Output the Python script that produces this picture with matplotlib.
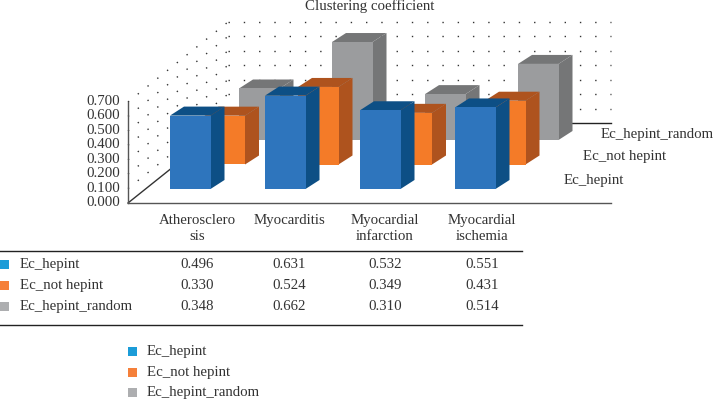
import matplotlib
matplotlib.use('Agg')
from matplotlib import pyplot as plt
from matplotlib.patches import Polygon, Rectangle

categories = ['Atherosclero\nsis', 'Myocarditis', 'Myocardial\ninfarction', 'Myocardial\nischemia']
series_names = ['Ec_hepint', 'Ec_not hepint', 'Ec_hepint_random']
ec_hepint = [0.496, 0.631, 0.532, 0.551]
ec_not_hepint = [0.330, 0.524, 0.349, 0.431]
ec_hepint_random = [0.348, 0.662, 0.310, 0.514]
y_ticks = [0.0, 0.1, 0.2, 0.3, 0.4, 0.5, 0.6, 0.7]
series_values = [ec_hepint, ec_not_hepint, ec_hepint_random]

front_colors = ['#2e75bd', '#f47b28', '#9b9c9e']
side_colors = ['#0d4f85', '#ae531e', '#757677']
key_colors = ['#1b9cd8', '#f5803a', '#adaeb0']

plt.rcParams['font.family'] = ['Liberation Serif', 'DejaVu Serif']
TXT = '#333333'
FS = 10.7

# oblique projection, worked out in pixels of the 714x401 picture
UNIT = 148.0
BAR_W = 40.5
DEPTH = (14, -9)
STEP_X = [95.0, 93.5, 93.0]  # rows further back sit a bit closer together
STEP_SERIES = (34.5, -24.5)
ORIGIN = (170, 189)


def draw_bar(ax, cat, ser, value):
    x0 = ORIGIN[0] + cat * STEP_X[ser] + ser * STEP_SERIES[0]
    y0 = ORIGIN[1] + ser * STEP_SERIES[1]
    top = y0 - value * UNIT
    x1 = x0 + BAR_W
    dx, dy = DEPTH
    z = 10 + (2 - ser) * 10 + cat
    ax.add_patch(Polygon([(x1, y0), (x1 + dx, y0 + dy), (x1 + dx, top + dy), (x1, top)],
                         fc=side_colors[ser], ec='none', zorder=z))
    ax.add_patch(Polygon([(x0, top), (x0 + dx, top + dy), (x1 + dx, top + dy), (x1, top)],
                         fc=side_colors[ser], ec='none', zorder=z))
    ax.add_patch(Rectangle((x0, top), BAR_W, y0 - top, fc=front_colors[ser], ec='none', zorder=z))


def label(ax, x, y, s, ha='left'):
    # y is the middle of the digits, so rows line up whatever the descenders do
    ax.text(x, round(y) + 4, s, ha=ha, va='baseline', fontsize=FS, color=TXT)


def draw_walls(ax):
    left, right = 128, 611
    bottom, height = 203, 101
    back_x, back_y = 228, 123
    for t in y_ticks[1:]:
        yf = bottom - height * t / y_ticks[-1]
        yb = back_y - height * t / y_ticks[-1]
        ax.plot([left, back_x], [yf, yb], color='#333333', lw=1.0, ls=(0, (1, 8)), zorder=1)
        ax.plot([back_x, right], [yb, yb], color='#333333', lw=1.0, ls=(0, (1, 10)), zorder=1)
    ax.plot([left, back_x], [bottom, back_y], color='#333333', lw=1.0, zorder=2)
    ax.plot([back_x, right], [back_y, back_y], color='#222222', lw=1.0, zorder=2)
    ax.plot([left, left], [bottom, bottom - height], color='#555555', lw=1.0, zorder=2)
    ax.plot([left, right], [bottom, bottom], color='#555555', lw=1.0, zorder=2)
    for t in y_ticks:
        label(ax, 120, bottom - 1 - height * t / y_ticks[-1], '%.3f' % t, ha='right')


def draw_table(ax):
    col_x = [197, 289, 385, 482]
    for i, name in enumerate(categories):
        ax.text(col_x[i], 214, name, ha='center', va='top', fontsize=FS, color=TXT, linespacing=1.25)
    ax.plot([0, 522], [251, 251], color='#222222', lw=1.0)
    ax.plot([0, 522], [325, 325], color='#222222', lw=1.0)
    row_y = [264, 285, 306]
    for r, name in enumerate(series_names):
        ax.add_patch(Rectangle((-1, row_y[r] - 4.5), 10, 9, fc=key_colors[r], ec='none'))
        label(ax, 20, row_y[r], name)
        for c, v in enumerate(series_values[r]):
            label(ax, col_x[c], row_y[r], '%.3f' % v, ha='center')


def draw_legend(ax):
    row_y = [351, 372, 392]
    for r, name in enumerate(series_names):
        ax.add_patch(Rectangle((128, row_y[r] - 4.5), 9, 9, fc=key_colors[r], ec='none'))
        label(ax, 147, row_y[r], name)


def main():
    fig = plt.figure(figsize=(7.14, 4.01), dpi=100)
    ax = fig.add_axes([0, 0, 1, 1])
    ax.set_xlim(0, 714)
    ax.set_ylim(401, 0)
    ax.axis('off')

    label(ax, 370, 6, 'Clustering coefficient', ha='center')
    draw_walls(ax)
    for ser in range(2, -1, -1):
        for cat in range(len(categories)):
            draw_bar(ax, cat, ser, series_values[ser][cat])
    # depth labels, right of the floor
    label(ax, 714, 134, series_names[2], ha='right')
    label(ax, 666, 156, series_names[1], ha='right')
    label(ax, 624, 180, series_names[0], ha='right')
    draw_table(ax)
    draw_legend(ax)
    fig.savefig('out.png', dpi=100)


if __name__ == '__main__':
    main()
